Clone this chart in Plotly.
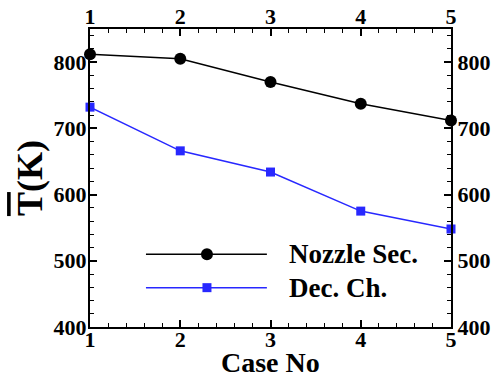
import plotly.graph_objects as go

cases = [1, 2, 3, 4, 5]
nozzle_sec = [812, 805, 770, 737, 712]
dec_ch = [732, 666, 634, 575, 548]
series_names = ["Nozzle Sec.", "Dec. Ch."]
x_ticks = [1, 2, 3, 4, 5]
y_ticks = [400, 500, 600, 700, 800]

FONT = "Liberation Serif"
BLUE = "rgb(40,40,255)"

fig = go.Figure()
fig.add_trace(go.Scatter(x=cases, y=nozzle_sec, mode="lines+markers",
                         line=dict(color="black", width=1.5),
                         marker=dict(symbol="circle", size=12, color="black"),
                         cliponaxis=False, showlegend=False))
fig.add_trace(go.Scatter(x=cases, y=dec_ch, mode="lines+markers",
                         line=dict(color=BLUE, width=1.5),
                         marker=dict(symbol="square", size=9, color=BLUE),
                         cliponaxis=False, showlegend=False))
# invisible trace to activate the mirrored top/right axes
fig.add_trace(go.Scatter(x=cases, y=nozzle_sec, xaxis="x2", yaxis="y2",
                         mode="lines", opacity=0, hoverinfo="skip", showlegend=False))

# custom legend on a helper axis
leg_y = [0.244, 0.132]
for name, yy, col, sym, sz in [(series_names[0], leg_y[0], "black", "circle", 12),
                               (series_names[1], leg_y[1], BLUE, "square", 9)]:
    fig.add_trace(go.Scatter(x=[0.155, 0.49], y=[yy, yy], xaxis="x3", yaxis="y3",
                             mode="lines", line=dict(color=col, width=1.5),
                             hoverinfo="skip", showlegend=False))
    fig.add_trace(go.Scatter(x=[0.324], y=[yy], xaxis="x3", yaxis="y3",
                             mode="markers", marker=dict(symbol=sym, size=sz, color=col),
                             hoverinfo="skip", showlegend=False))
    fig.add_annotation(x=0.545, y=yy, xref="x3", yref="y3", text="<b>%s</b>" % name,
                       showarrow=False, xanchor="left", yanchor="middle",
                       font=dict(family=FONT, size=27, color="black"))

# axis titles
fig.add_annotation(x=0.5, y=-0.118, xref="paper", yref="paper", text="<b>Case No</b>",
                   showarrow=False, xanchor="center", yanchor="middle",
                   font=dict(family=FONT, size=28, color="black"))
fig.add_annotation(x=-0.166, y=0.5, xref="paper", yref="paper", textangle=-90,
                   text="<b><span style='text-decoration:overline'>T</span>(K)</b>",
                   showarrow=False, xanchor="center", yanchor="middle",
                   font=dict(family=FONT, size=36, color="black"))

tickfont = dict(family=FONT, size=22, color="black")
common_x = dict(range=[1, 5], tickvals=x_ticks, ticktext=["<b>%d</b>" % v for v in x_ticks],
                ticks="inside", ticklen=7, tickwidth=1.5, tickcolor="black",
                showline=True, linecolor="black", linewidth=2, showgrid=False, zeroline=False,
                tickfont=tickfont, automargin=False,
                minor=dict(dtick=0.2, ticks="inside", ticklen=4, tickwidth=1, tickcolor="black"))
common_y = dict(range=[400, 850], tickvals=y_ticks, ticktext=["<b>%d</b>" % v for v in y_ticks],
                ticks="inside", ticklen=7, tickwidth=1.5, tickcolor="black",
                showline=True, linecolor="black", linewidth=2, showgrid=False, zeroline=False,
                tickfont=tickfont, automargin=False,
                minor=dict(dtick=20, ticks="inside", ticklen=4, tickwidth=1, tickcolor="black"))

fig.update_layout(
    width=497, height=378,
    margin=dict(l=90, r=46, t=29, b=51),
    plot_bgcolor="rgba(0,0,0,0)", paper_bgcolor="white",
    font=dict(family=FONT, color="black"),
    xaxis=dict(**common_x, side="bottom", ticklabelstandoff=-8),
    yaxis=dict(**common_y, side="left", ticklabelstandoff=-3),
    xaxis2=dict(**common_x, side="top", overlaying="x", matches="x", ticklabelstandoff=-6),
    yaxis2=dict(**common_y, side="right", overlaying="y", matches="y"),
    xaxis3=dict(domain=[0, 1], range=[0, 1], visible=False, anchor="y3"),
    yaxis3=dict(domain=[0, 1], range=[0, 1], visible=False, anchor="x3"),
)

fig.write_html("out.html")
